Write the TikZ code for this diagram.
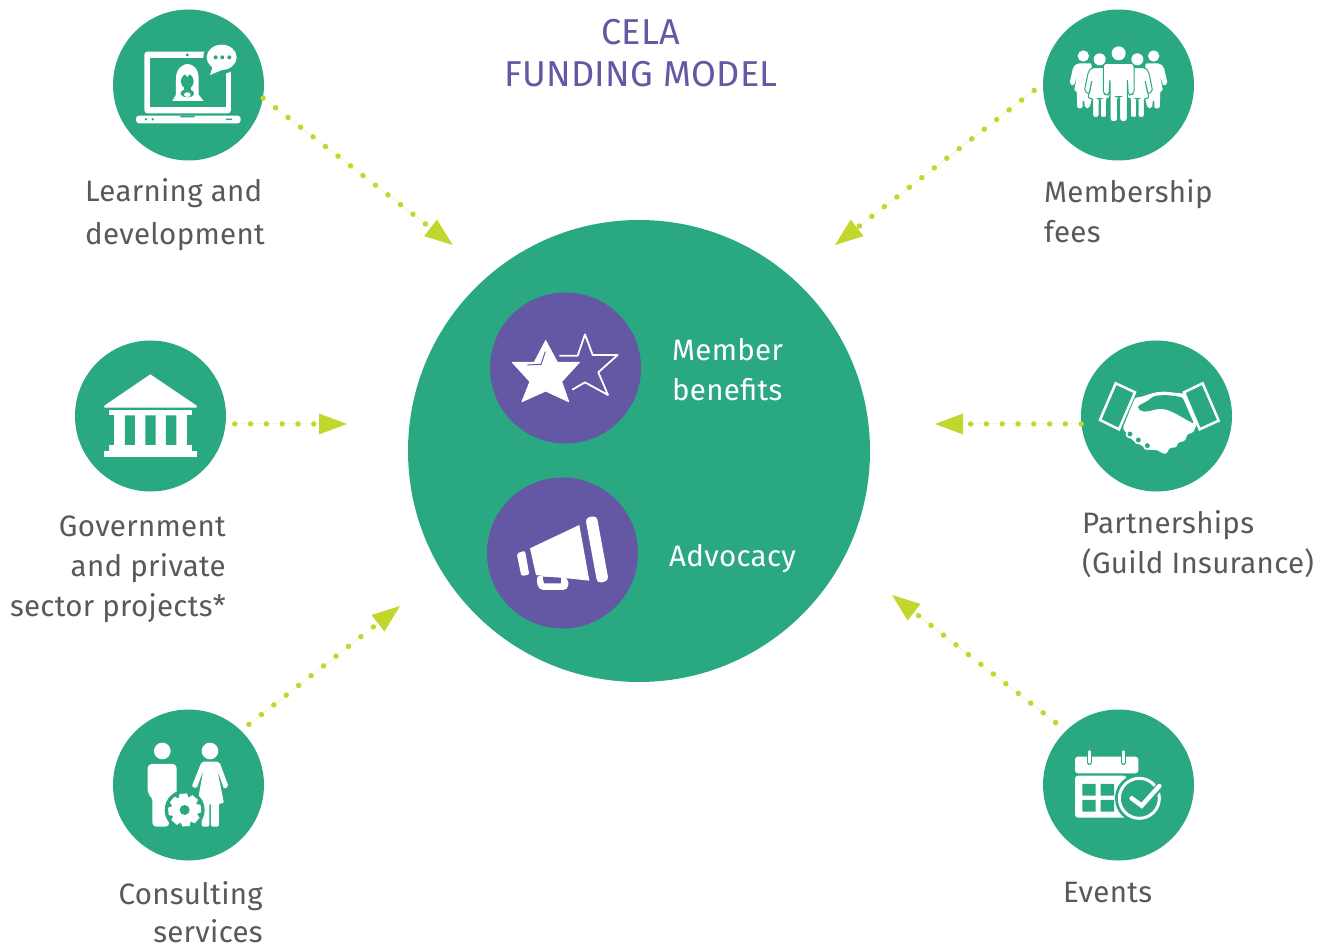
\documentclass[tikz,border=0pt]{standalone}
\usepackage{fontspec}
\setmainfont{Fira Sans}[LetterSpace=1]
\usetikzlibrary{arrows.meta}
\definecolor{cgreen}{HTML}{2AA882}
\definecolor{cpurple}{HTML}{6457A3}
\definecolor{clime}{HTML}{C2D62E}
\definecolor{cgrey}{HTML}{58595B}
\tikzset{
  bigc/.style={circle,fill=cgreen,minimum size=151pt,inner sep=0pt},
  purc/.style={circle,fill=cpurple,minimum size=151pt,inner sep=0pt},
  flow/.style={draw=clime,fill=clime,line width=5.5pt,line cap=round,dash pattern=on 0pt off 15.8pt,
     -{Triangle[length=28pt,width=21pt,fill=clime,line width=0pt]}},
  lab/.style={font=\fontsize{29.5}{40}\selectfont,text=cgrey,inner sep=0pt},
  wlab/.style={font=\fontsize{29.5}{40}\selectfont,text=white,inner sep=0pt},
  ttl/.style={font=\fontsize{36}{42}\selectfont,text=cpurple,inner sep=0pt,align=center},
  ico/.style={fill=white},
  icg/.style={fill=cgreen},
  icp/.style={fill=cpurple},
  zoomed/.style={shift={#1},x=0.3333pt,y=-0.3333pt},
  zoomedm/.style={shift={#1},x=-0.3333pt,y=-0.3333pt}
}
\begin{document}
\begin{tikzpicture}[x=1pt,y=-1pt]
\useasboundingbox (0,0) rectangle (1330,949);
% circles
\node[circle,fill=cgreen,minimum size=462pt,inner sep=0pt] (hub) at (639,451) {};
\node[purc] (ben) at (565.5,368) {};
\node[purc] (adv) at (562.5,553) {};
\node[bigc] (lea) at (188.5,85) {};
\node[bigc] (mem) at (1118.5,85) {};
\node[bigc] (gov) at (150.5,416) {};
\node[bigc] (par) at (1156.5,416) {};
\node[bigc] (con) at (188.5,785) {};
\node[bigc] (eve) at (1118.5,785) {};
% free ends
\coordinate (t1) at (452.7,245);
\coordinate (t2) at (835,245);
\coordinate (t3) at (347,424);
\coordinate (t4) at (935,424);
\coordinate (t5) at (400,606);
\coordinate (t6) at (892,595);
\draw[flow] (lea.-10) -- (t1);
\draw[flow,shorten <=11pt] (mem.179) -- (t2);
\draw[flow,shorten <=9pt] (gov.-6) -- (t3);
\draw[flow] (par.186) -- (t4);
\draw[flow,shorten <=10pt] (con.46) -- (t5);
\draw[flow,shorten <=13pt] (eve.134) -- (t6);
% labels
\node[ttl,anchor=base] (title) at (641,87) {CELA\\FUNDING MODEL};
\node[lab,anchor=base west,align=left] (l1) at (85,245) {Learning and\\[3pt]development};
\node[lab,anchor=base west,align=left] (l2) at (1044,243) {Membership\\fees};
\node[lab,anchor=base east,align=right] (l3) at (226,616) {Government\\and private\\sector projects*};
\node[lab,anchor=base west,align=left] (l4) at (1082,573) {Partnerships\\(Guild Insurance)};
\node[lab,anchor=base east,align=right] (l5) at (263,942) {Consulting\\[-2pt]services};
\node[lab,anchor=base west] (l6) at (1063,902) {Events};
\node[wlab,anchor=base west,align=left] (l7) at (672,400) {Member\\benefits};
\node[wlab,anchor=base west] (l8) at (669,566) {Advocacy};
% laptop
\begin{scope}[zoomed={(100,0)}]
\fill[ico,rounded corners=3pt] (133,155) rectangle (393,340);
\fill[icg] (150,175) rectangle (378,322);
\fill[icg] (262,165) circle (5);
\fill[ico,rounded corners=3pt] (108,347) rectangle (422,370);
\fill[icg,rounded corners=1pt] (240,347) rectangle (285,352);
\fill[icg] (138,358) circle (4) (158,358) circle (4) (378,356) rectangle (396,360);
\fill[icg] (365,172) ellipse (55 and 48);
\fill[icg] (320,200) -- (320,235) -- (395,215) -- cycle;
\fill[ico] (365,172) ellipse (45 and 38);
\fill[ico] (340,195) -- (330,225) -- (378,205) -- cycle;
\fill[icg] (347,172) circle (6) (367,172) circle (6) (388,172) circle (6);
\fill[ico] (217,303) -- (228,284) -- (228,235) .. controls (228,205) and (250,192) .. (262,192) .. controls (278,192) and (296,205) .. (296,235) -- (296,284) -- (311,303) -- cycle;
\fill[icg] (262,244) ellipse (19 and 22);
\fill[ico] (254,220) -- (271,220) -- (262,231) -- cycle;
\fill[icg] (252,260) rectangle (272,274);
\fill[icg] (262,280) ellipse (20 and 12);
\fill[ico] (262,284) ellipse (10 and 7);
\end{scope}
% people
\newcommand{\outerfig}{%
  \fill[ico] (160,168) circle (17);
  \fill[ico,rounded corners=2pt] (142,190) -- (185,190) -- (185,300) -- (178,325) -- (165,325) -- (162,298) -- (158,298) -- (158,325) -- (142,325) -- (140,272) -- (132,272) -- (142,225) -- (131,258) -- (118,252) -- (130,200) -- cycle;}
\newcommand{\innerfig}{%
  \fill[ico] (209,178) circle (18);
  \filldraw[ico,draw=cgreen,line width=1pt,rounded corners=2pt] (185,203) -- (235,203) -- (240,295) -- (230,295) -- (230,352) -- (211,352) -- (211,296) -- (207,296) -- (207,352) -- (188,352) -- (188,295) -- (174,295) -- (186,240) -- (178,282) -- (163,274) -- (175,215) -- cycle;}
\begin{scope}[zoomed={(1030,0)}]
\outerfig
\end{scope}
\begin{scope}[zoomedm={(1207,0)}]
\outerfig
\end{scope}
\begin{scope}[zoomed={(1030,0)}]
\innerfig
\end{scope}
\begin{scope}[zoomedm={(1207,0)}]
\innerfig
\end{scope}
\begin{scope}[zoomed={(1030,0)}]
\fill[ico] (266,160) circle (21);
\filldraw[ico,draw=cgreen,line width=1pt,rounded corners=3pt] (220,190) -- (312,190) -- (312,282) -- (295,286) -- (292,235) -- (292,365) -- (269,365) -- (269,290) -- (263,290) -- (263,365) -- (240,365) -- (240,235) -- (237,286) -- (220,282) -- cycle;
\end{scope}
% bank
\begin{scope}[zoomed={(60,335)}]
\fill[ico] (133,218) -- (133,212) -- (271,118) -- (410,212) -- (410,218) -- cycle;
\fill[ico] (147,224) rectangle (396,241);
\fill[ico] (163,241) rectangle (380,330);
\fill[icg] (195,241) rectangle (225,330) (256,241) rectangle (287,330) (318,241) rectangle (349,330);
\fill[ico] (147,330) rectangle (396,347);
\fill[ico] (133,347) rectangle (410,367);
\end{scope}
% handshake
\begin{scope}[zoomed={(1070,335)}]
\draw[white,line width=2.5pt,line join=miter] (137,145) -- (195,172) -- (147,283) -- (90,255) -- cycle;
\draw[white,line width=2.5pt] (342,172) -- (398,145) -- (446,257) -- (389,283) -- cycle;
\fill[ico,rounded corners=1.5pt] (158,280) -- (195,188) .. controls (225,186) and (245,170) .. (285,170) -- (342,176) -- (380,268) -- (370,292) -- (352,298) -- (345,318) -- (325,322) -- (318,338) -- (300,338) -- (288,358) -- (272,352) -- (262,345) -- (240,345) -- (220,335) -- (185,314) -- cycle;
\fill[icg,rounded corners=1.5pt] (205,222) .. controls (203,208) and (225,205) .. (240,192) .. controls (255,178) and (300,178) .. (338,188) -- (372,266) .. controls (340,250) and (300,222) .. (272,222) .. controls (250,222) and (225,238) .. (205,222) -- cycle;
\filldraw[icg,draw=white,line width=1.7pt] (180,297) circle (10.5) (205,315) circle (10.5) (232,332) circle (10.5);
\end{scope}
% consulting
\begin{scope}[zoomed={(100,705)}]
\fill[ico] (187,138) circle (25);
\fill[ico,rounded corners=4pt] (143,177) -- (230,177) -- (230,275) -- (208,275) -- (208,365) -- (157,365) -- (157,275) -- (143,268) -- cycle;
\fill[ico] (330,138) circle (25);
\fill[ico,rounded corners=2pt] (305,170) -- (358,170) -- (386,245) -- (372,252) -- (352,195) -- (372,295) -- (357,295) -- (357,365) -- (333,365) -- (333,295) -- (328,295) -- (328,365) -- (305,365) -- (305,295) -- (292,295) -- (310,195) -- (290,250) -- (275,245) -- cycle;
\fill[icg] (254,315) circle (60);
\foreach \a in {0,45,...,315}{
  \fill[ico,rotate around={\a+5:(254,315)}] (243,266) -- (265,266) -- (272,290) -- (236,290) -- cycle;}
\fill[ico] (254,315) circle (36);
\fill[icg] (254,315) circle (15);
\end{scope}
% calendar
\begin{scope}[zoomed={(1030,705)}]
\fill[ico,rounded corners=3pt] (135,205) -- (135,155) -- (325,155) -- (325,205) -- cycle;
\draw[cgreen,line width=5.5pt,line cap=round] (178,140) -- (178,172) (281,140) -- (281,172);
\draw[white,line width=3pt,line cap=round] (178,140) -- (178,172) (281,140) -- (281,172);
\fill[ico,rounded corners=3pt] (135,212) -- (290,212) -- (290,338) -- (135,338) -- cycle;
\fill[icg] (157,237) rectangle (197,272) (212,237) rectangle (252,272) (157,285) rectangle (197,320) (212,285) rectangle (252,320);
\fill[icg] (328,280) circle (73);
\draw[white,line width=3pt] (328,280) circle (60);
\draw[cgreen,line width=8pt] (300,280) -- (335,305) -- (390,243);
\draw[white,line width=4.5pt,line cap=round] (305,280) -- (335,302) -- (388,243);
\end{scope}
% stars
\begin{scope}[zoomed={(480,285)}]
\fill[ico,draw=white,line width=1pt,line join=round] (197,167) -- (232,232) -- (298,232) -- (245,290) -- (266,350) -- (197,318) -- (126,350) -- (150,290) -- (97,232) -- (163,232) -- cycle;
\draw[cpurple,line width=1pt] (142,240) -- (183,238) -- (196,200);
\draw[white,line width=1.8pt,line join=round] (238,212) -- (293,212) -- (315,148) -- (338,210) -- (413,210) -- (355,262) -- (384,330) -- (315,292) -- (277,314);
\end{scope}
% megaphone
\begin{scope}[zoomed={(480,470)}]
\fill[ico] (150,235) -- (298,165) -- (328,332) -- (168,315) -- cycle;
\fill[ico,rounded corners=4pt] (316,144) -- (350,137) -- (386,332) -- (352,340) -- cycle;
\fill[ico,rounded corners=2pt] (110,250) -- (135,242) -- (148,314) -- (124,318) -- cycle;
\fill[ico,rounded corners=5pt] (168,315) -- (175,360) -- (265,360) -- (265,322) -- cycle;
\fill[icp] (188,320) -- (243,323) -- (243,340) -- (192,340) -- cycle;
\end{scope}
\end{tikzpicture}
\end{document}
